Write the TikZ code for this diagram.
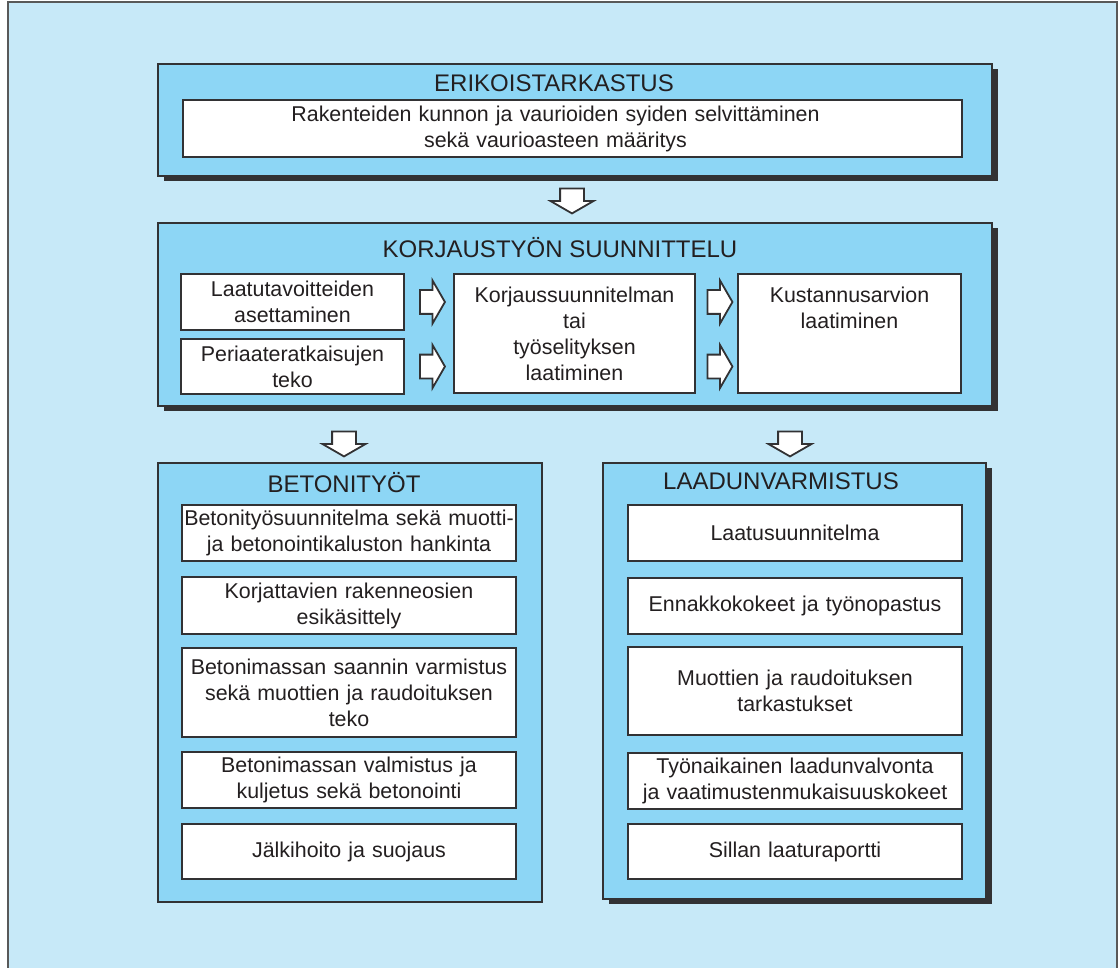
\documentclass[tikz,border=0pt]{standalone}
\usepackage{fontspec}
\setmainfont{Liberation Sans}
\usetikzlibrary{shapes.arrows,shadows,calc}

\definecolor{pagebg}{RGB}{199,233,248}
\definecolor{boxbg}{RGB}{141,214,245}
\definecolor{framec}{RGB}{50,50,52}
\definecolor{inkc}{RGB}{35,31,32}

\begin{document}
\begin{tikzpicture}[x=0.5pt,y=-0.5pt,
    bigbox/.style={draw=framec,fill=boxbg,line width=1pt,anchor=north west,inner sep=0pt},
    shadowed/.style={drop shadow={shadow xshift=3pt,shadow yshift=-2.5pt,fill=framec,opacity=1}},
    heading/.style={font={\fontsize{12}{14}\selectfont},text=inkc},
    tasktext/.style={inner xsep=0pt,inner ysep=0pt,align=center,text=inkc,
        font={\fontsize{10.7}{13}\selectfont}},
    task/.style={tasktext,draw=framec,fill=white,line width=0.9pt},
    blockarrow/.style={single arrow,draw=framec,fill=white,line width=0.9pt,
        inner xsep=0pt,inner ysep=5.5pt,single arrow head extend=4.75pt,
        single arrow tip angle=120,minimum height=12.5pt}]
\useasboundingbox (0,0) rectangle (1119,968);
\fill[pagebg] (8,2) rectangle (1117,968);
\draw[gray!70!black,line width=0.6pt] (8,968)--(8,2)--(1117,2)--(1117,968);

% frames
\node[bigbox,shadowed,minimum width=417pt,minimum height=56pt] (erik) at (157,63) {};
\node[bigbox,shadowed,minimum width=417pt,minimum height=91.5pt] (korj) at (157,222) {};
\node[bigbox,minimum width=192pt,minimum height=219.5pt] (beto) at (157,462) {};
\node[bigbox,shadowed,minimum width=191.5pt,minimum height=218pt] (laad) at (602,462) {};

\node[heading] (erikt) at (554,83) {ERIKOISTARKASTUS};
\node[heading] (korjt) at (560,248) {KORJAUSTYÖN SUUNNITTELU};
\node[heading] (betot) at (344,483) {BETONITYÖT};
\node[heading] (laadt) at (781,481) {LAADUNVARMISTUS};

\node[task,minimum width=389.5pt,minimum height=28.5pt] (selv) at (572.5,128.5) {};
\node[tasktext,text width=389.5pt] (selvt) at ($(selv)+(-17,0)$)
    {Rakenteiden kunnon ja vaurioiden syiden selvittäminen\\sekä vaurioasteen määritys};

\node[task,text width=111.5pt,minimum height=28pt] (laatu) at (292.5,302) {Laatutavoitteiden\\asettaminen};
\node[task,text width=111.5pt,minimum height=27.5pt] (peri) at (292.5,366.5) {Periaateratkaisujen\\teko};
\node[task,text width=120.5pt,minimum height=59.5pt] (suun) at (574.5,333.5)
    {Korjaussuunnitelman\\tai\\työselityksen\\laatiminen};
\node[task,text width=111.5pt,minimum height=59.5pt] (kust) at (849.5,333.5)
    {Kustannusarvion\\laatiminen\\\mbox{}\\\mbox{}};

% betonityot
\node[task,text width=167pt,minimum height=28pt] (b1) at (349,533)
    {Betonityösuunnitelma sekä muotti-\\ja betonointikaluston hankinta};
\node[task,text width=167pt,minimum height=28.5pt] (b2) at (349,605.5) {Korjattavien rakenneosien\\esikäsittely};
\node[task,text width=167pt,minimum height=44.5pt] (b3) at (349,692.5)
    {Betonimassan saannin varmistus\\sekä muottien ja raudoituksen\\teko};
\node[task,text width=167pt,minimum height=28pt] (b4) at (349,780) {Betonimassan valmistus ja\\kuljetus sekä betonointi};
\node[task,text width=167pt,minimum height=27.5pt] (b5) at (349,851.5) {Jälkihoito ja suojaus};

% laadunvarmistus
\node[task,text width=167pt,minimum height=28pt] (q1) at (795,533) {Laatusuunnitelma};
\node[task,text width=167pt,minimum height=28pt] (q2) at (795,606) {Ennakkokokeet ja työnopastus};
\node[task,text width=167pt,minimum height=44pt] (q3) at (795,691) {Muottien ja raudoituksen\\tarkastukset};
\node[task,text width=167pt,minimum height=28pt] (q4) at (795,781)
    {Työnaikainen laadunvalvonta\\ja vaatimustenmukaisuuskokeet};
\node[task,text width=167pt,minimum height=27.5pt] (q5) at (795,851.5) {Sillan laaturaportti};

% arrows
\node[blockarrow,xshift=-1.5pt,yshift=1pt,rotate=-90] (a1) at ($(erik.south)!0.5!(korj.north)$) {};
\node[blockarrow] (a2) at ($(laatu.east)!0.5!(laatu.east -| suun.west)$) {};
\node[blockarrow] (a3) at ($(peri.east)!0.5!(peri.east -| suun.west)$) {};
\node[blockarrow] (a4) at ($(laatu.east -| suun.east)!0.5!(laatu.east -| kust.west)$) {};
\node[blockarrow] (a5) at ($(peri.east -| suun.east)!0.5!(peri.east -| kust.west)$) {};
\node[blockarrow,yshift=-3pt,rotate=-90] (a6) at ($(korj.south -| betot)!0.5!(beto.north -| betot)$) {};
\node[blockarrow,xshift=-2.5pt,yshift=-3pt,rotate=-90] (a7) at ($(korj.south -| q1)!0.5!(laad.north -| q1)$) {};
\end{tikzpicture}
\end{document}
